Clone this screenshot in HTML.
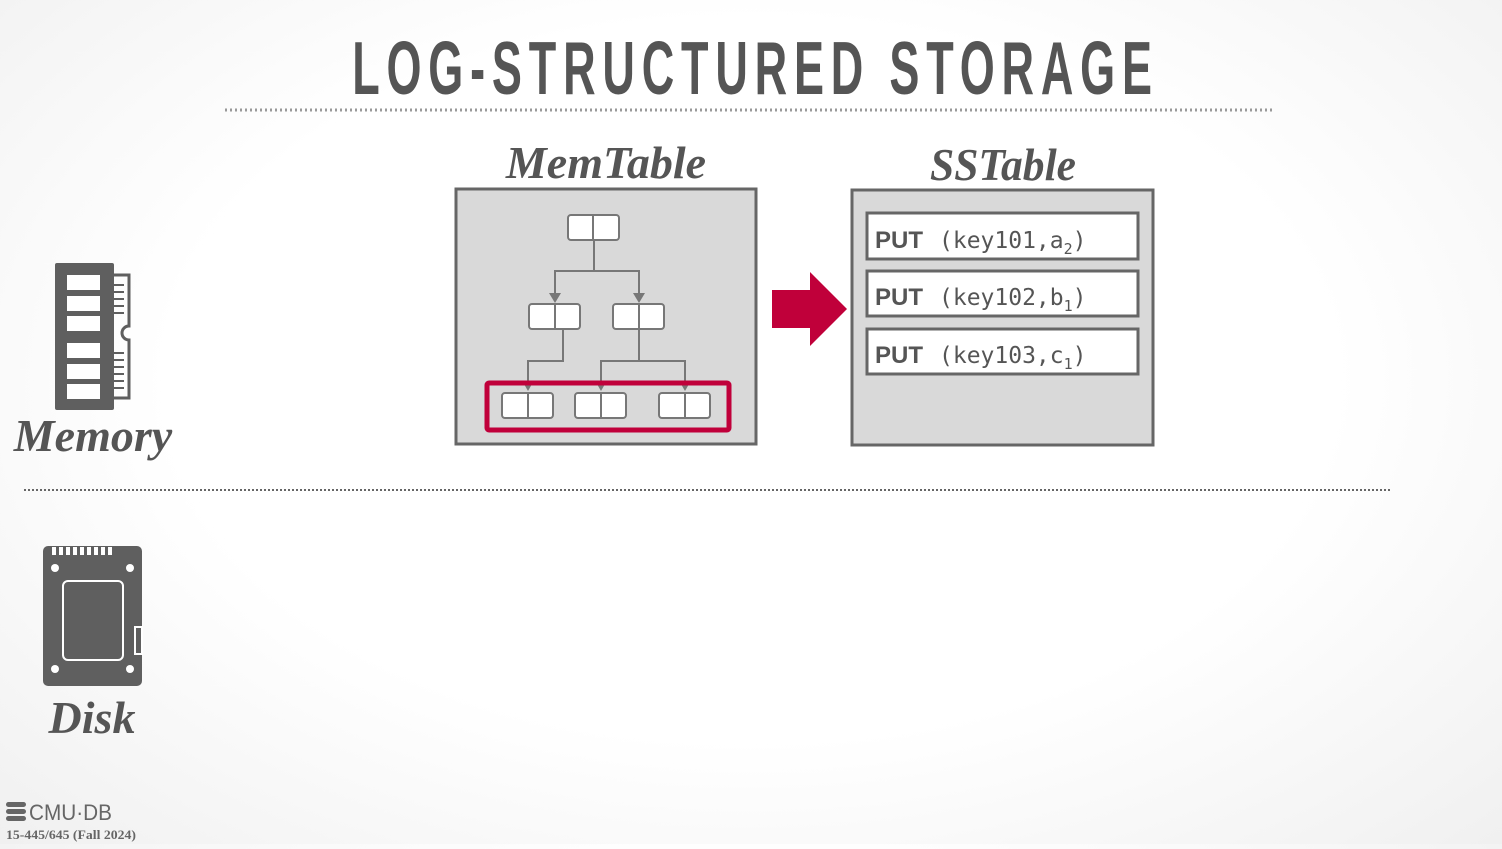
<!DOCTYPE html>
<html><head><style>
html,body{margin:0;padding:0;}
body{width:1502px;height:844px;overflow:hidden;background:radial-gradient(ellipse at 50% 45%,#ffffff 55%,#f0f0f0 100%);}
</style></head><body>
<svg width="1502" height="844" viewBox="0 0 1502 844" xmlns="http://www.w3.org/2000/svg">
<g transform="scale(0.6,1)">
<text x="587" y="94" font-family="Liberation Sans, sans-serif" font-weight="bold" font-size="75" fill="#555" textLength="1333" lengthAdjust="spacing">LOG-STRUCTURED&#160;STORAGE</text>
</g>
<line x1="225" y1="110" x2="1275" y2="110" stroke="#999" stroke-width="3" stroke-dasharray="2,3"/>
<line x1="24" y1="490" x2="1392" y2="490" stroke="#666" stroke-width="2" stroke-dasharray="2,2"/>

<text x="606" y="178" text-anchor="middle" font-family="Liberation Serif, serif" font-style="italic" font-weight="bold" font-size="46" fill="#555">MemTable</text>
<text x="1003" y="180" text-anchor="middle" font-family="Liberation Serif, serif" font-style="italic" font-weight="bold" font-size="46" fill="#555" textLength="146" lengthAdjust="spacingAndGlyphs">SSTable</text>

<!-- MemTable -->
<rect x="456" y="189" width="300" height="255" fill="#d9d9d9" stroke="#666" stroke-width="3"/>
<g stroke="#777" stroke-width="2" fill="none">
<path d="M594 240 V271 H555 V296 M594 271 H639 V296"/>
<path d="M563 329 V361 H528 V386 M639 329 V361 H601 V386 M639 361 H685 V386"/>
</g>
<g fill="#777">
<polygon points="549,293 561,293 555,303"/><polygon points="633,293 645,293 639,303"/>
<polygon points="524,384 532,384 528,391"/><polygon points="597,384 605,384 601,391"/><polygon points="681,384 689,384 685,391"/>
</g>
<rect x="487" y="383" width="242" height="47" fill="none" stroke="#c0003a" stroke-width="5" rx="2"/>
<g fill="#fff" stroke="#777" stroke-width="2">
<rect x="568" y="215" width="51" height="25" rx="3"/><line x1="593" y1="215" x2="593" y2="240"/>
<rect x="529" y="304" width="51" height="25" rx="3"/><line x1="555" y1="304" x2="555" y2="329"/>
<rect x="613" y="304" width="51" height="25" rx="3"/><line x1="639" y1="304" x2="639" y2="329"/>
<rect x="502" y="393" width="51" height="25" rx="3"/><line x1="528" y1="393" x2="528" y2="418"/>
<rect x="575" y="393" width="51" height="25" rx="3"/><line x1="601" y1="393" x2="601" y2="418"/>
<rect x="659" y="393" width="51" height="25" rx="3"/><line x1="685" y1="393" x2="685" y2="418"/>
</g>

<!-- arrow -->
<polygon points="772,290 810,290 810,272 847,309 810,346 810,328 772,328" fill="#c0003a"/>

<!-- SSTable -->
<rect x="852" y="190" width="301" height="255" fill="#d9d9d9" stroke="#666" stroke-width="3"/>
<g fill="#fff" stroke="#666" stroke-width="3">
<rect x="867" y="213" width="271" height="46"/>
<rect x="867" y="271" width="271" height="45"/>
<rect x="867" y="329" width="271" height="45"/>
</g>
<g font-size="25" fill="#555">
<text x="875" y="248"><tspan font-family="Liberation Sans, sans-serif" font-weight="bold" font-size="24">PUT</tspan><tspan font-family="DejaVu Sans Mono, monospace" font-size="23" dx="16">(key101,a</tspan><tspan font-family="DejaVu Sans Mono, monospace" font-size="15" dy="6">2</tspan><tspan font-family="DejaVu Sans Mono, monospace" font-size="23" dy="-6">)</tspan></text>
<text x="875" y="305"><tspan font-family="Liberation Sans, sans-serif" font-weight="bold" font-size="24">PUT</tspan><tspan font-family="DejaVu Sans Mono, monospace" font-size="23" dx="16">(key102,b</tspan><tspan font-family="DejaVu Sans Mono, monospace" font-size="15" dy="6">1</tspan><tspan font-family="DejaVu Sans Mono, monospace" font-size="23" dy="-6">)</tspan></text>
<text x="875" y="363"><tspan font-family="Liberation Sans, sans-serif" font-weight="bold" font-size="24">PUT</tspan><tspan font-family="DejaVu Sans Mono, monospace" font-size="23" dx="16">(key103,c</tspan><tspan font-family="DejaVu Sans Mono, monospace" font-size="15" dy="6">1</tspan><tspan font-family="DejaVu Sans Mono, monospace" font-size="23" dy="-6">)</tspan></text>
</g>

<!-- Memory icon -->
<g fill="#5f5f5f">
<rect x="55" y="263" width="59" height="147" rx="2"/>
<path d="M112 275 H129 V326 A6 6 0 0 0 129 340 V398 H112 Z" fill="none" stroke="#5f5f5f" stroke-width="3"/>
<g stroke="#5f5f5f" stroke-width="2"><line x1="113" y1="285" x2="124" y2="285"/><line x1="113" y1="292" x2="124" y2="292"/><line x1="113" y1="299" x2="124" y2="299"/><line x1="113" y1="306" x2="124" y2="306"/><line x1="113" y1="313" x2="124" y2="313"/><line x1="113" y1="353" x2="124" y2="353"/><line x1="113" y1="360" x2="124" y2="360"/><line x1="113" y1="367" x2="124" y2="367"/><line x1="113" y1="374" x2="124" y2="374"/><line x1="113" y1="381" x2="124" y2="381"/><line x1="113" y1="388" x2="124" y2="388"/></g>
</g>
<g fill="#fff">
<rect x="67" y="275" width="33" height="15"/><rect x="67" y="296" width="33" height="15"/><rect x="67" y="316" width="33" height="15"/>
<rect x="67" y="343" width="33" height="15"/><rect x="67" y="364" width="33" height="15"/><rect x="67" y="384" width="33" height="15"/>
</g>
<text x="93" y="451" text-anchor="middle" font-family="Liberation Serif, serif" font-style="italic" font-weight="bold" font-size="46" fill="#555">Memory</text>

<!-- Disk icon -->
<rect x="43" y="546" width="99" height="140" rx="5" fill="#5f5f5f"/>
<g fill="#fff"><rect x="52" y="547" width="4" height="8"/><rect x="59" y="547" width="4" height="8"/><rect x="66" y="547" width="4" height="8"/><rect x="73" y="547" width="4" height="8"/><rect x="80" y="547" width="4" height="8"/><rect x="87" y="547" width="4" height="8"/><rect x="94" y="547" width="4" height="8"/><rect x="101" y="547" width="4" height="8"/><rect x="108" y="547" width="4" height="8"/>
<circle cx="55" cy="568" r="4"/><circle cx="130" cy="568" r="4"/><circle cx="55" cy="669" r="4"/><circle cx="130" cy="669" r="4"/></g>
<rect x="63" y="581" width="60" height="79" rx="5" fill="none" stroke="#fff" stroke-width="2"/>
<rect x="135" y="627" width="7" height="27" fill="none" stroke="#fff" stroke-width="2"/>
<text x="92" y="733" text-anchor="middle" font-family="Liberation Serif, serif" font-style="italic" font-weight="bold" font-size="46" fill="#555">Disk</text>

<!-- footer -->
<g fill="#666"><rect x="6" y="802" width="20" height="5" rx="2.5"/><rect x="6" y="809" width="20" height="5" rx="2.5"/><rect x="6" y="816" width="20" height="5" rx="2.5"/></g>
<text x="29" y="820" font-family="Liberation Sans, sans-serif" font-size="22" fill="#666" textLength="83" lengthAdjust="spacingAndGlyphs">CMU·DB</text>
<text x="6" y="839" font-family="Liberation Serif, serif" font-weight="bold" font-size="13" fill="#666" textLength="130" lengthAdjust="spacingAndGlyphs">15-445/645 (Fall 2024)</text>
</svg>
</body></html>
